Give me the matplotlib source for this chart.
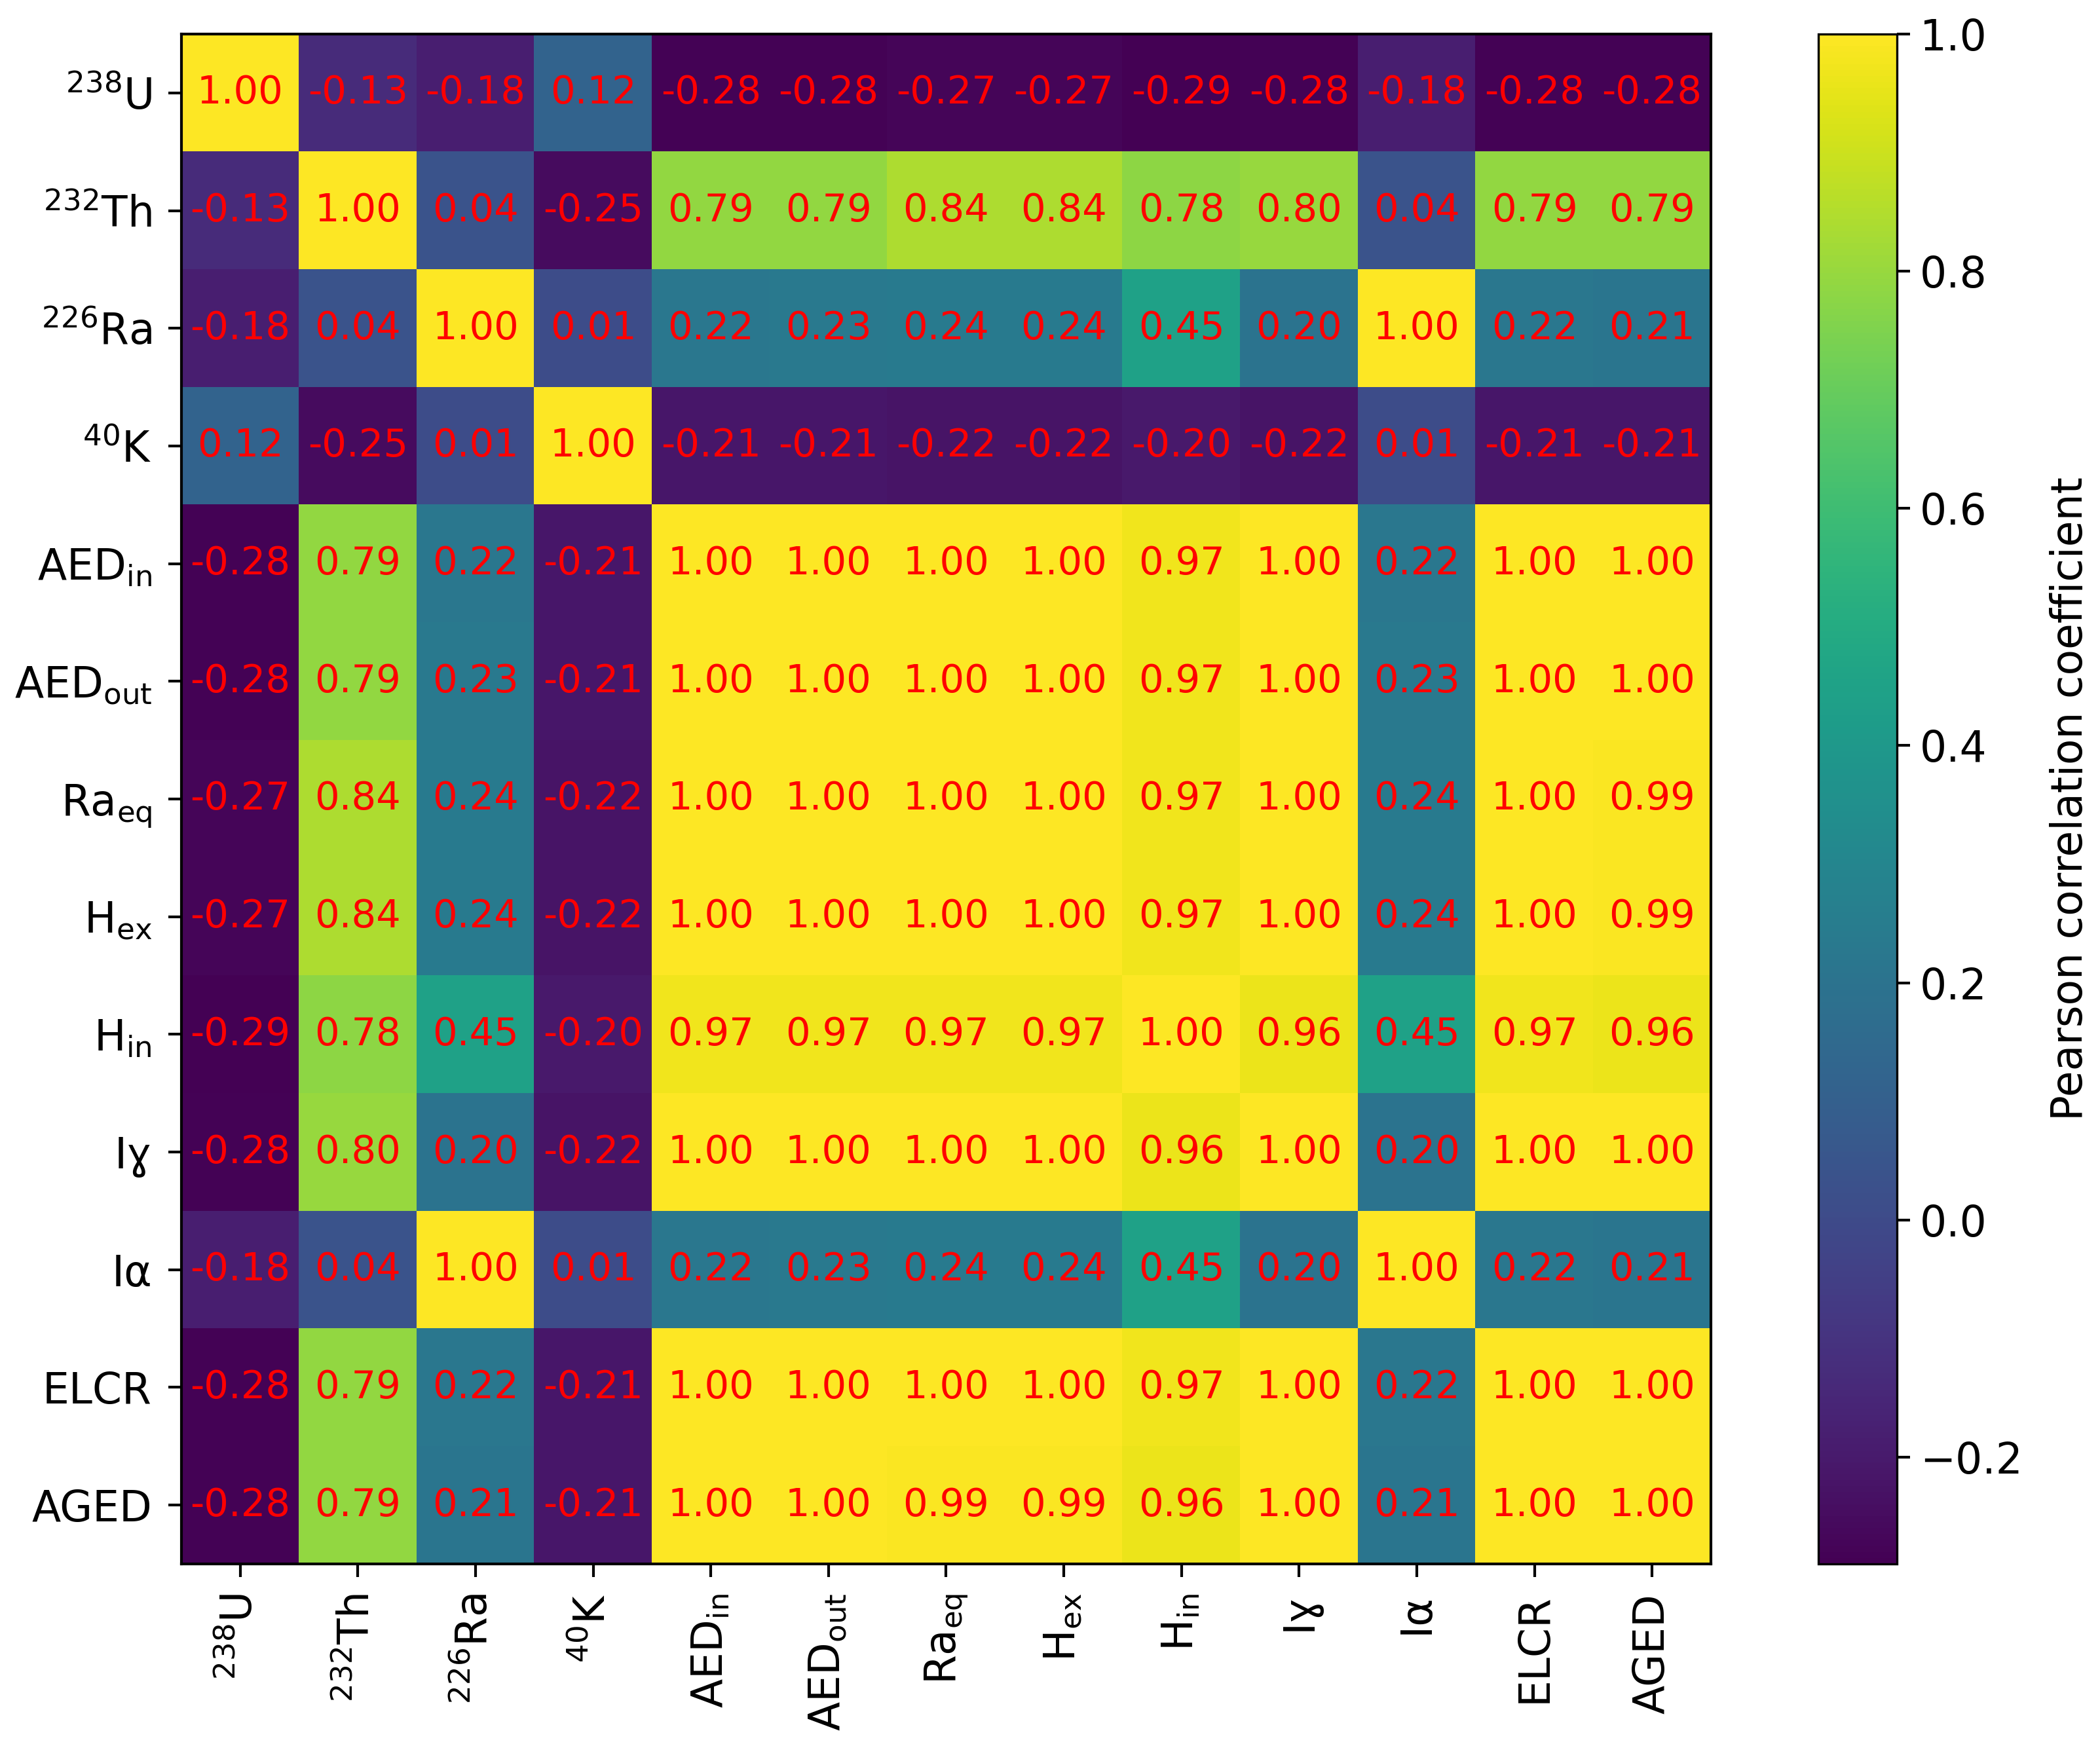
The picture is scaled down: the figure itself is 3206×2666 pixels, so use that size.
import numpy as np
import matplotlib
matplotlib.use("Agg")
import matplotlib.pyplot as plt

labels = [r"$\mathregular{^{238}U}$", r"$\mathregular{^{232}Th}$", r"$\mathregular{^{226}Ra}$",
          r"$\mathregular{^{40}K}$", r"$\mathregular{AED_{in}}$", r"$\mathregular{AED_{out}}$",
          r"$\mathregular{Ra_{eq}}$", r"$\mathregular{H_{ex}}$", r"$\mathregular{H_{in}}$",
          "I\u0263", "I\u03b1", "ELCR", "AGED"]

row_U      = [1.00, -0.13, -0.18, 0.12, -0.28, -0.28, -0.27, -0.27, -0.29, -0.28, -0.18, -0.28, -0.28]
row_Th     = [-0.13, 1.00, 0.04, -0.25, 0.79, 0.79, 0.84, 0.84, 0.78, 0.80, 0.04, 0.79, 0.79]
row_Ra     = [-0.18, 0.04, 1.00, 0.01, 0.22, 0.23, 0.24, 0.24, 0.45, 0.20, 1.00, 0.22, 0.21]
row_K      = [0.12, -0.25, 0.01, 1.00, -0.21, -0.21, -0.22, -0.22, -0.20, -0.22, 0.01, -0.21, -0.21]
row_AEDin  = [-0.28, 0.79, 0.22, -0.21, 1.00, 1.00, 1.00, 1.00, 0.97, 1.00, 0.22, 1.00, 1.00]
row_AEDout = [-0.28, 0.79, 0.23, -0.21, 1.00, 1.00, 1.00, 1.00, 0.97, 1.00, 0.23, 1.00, 1.00]
row_Raeq   = [-0.27, 0.84, 0.24, -0.22, 1.00, 1.00, 1.00, 1.00, 0.97, 1.00, 0.24, 1.00, 0.99]
row_Hex    = [-0.27, 0.84, 0.24, -0.22, 1.00, 1.00, 1.00, 1.00, 0.97, 1.00, 0.24, 1.00, 0.99]
row_Hin    = [-0.29, 0.78, 0.45, -0.20, 0.97, 0.97, 0.97, 0.97, 1.00, 0.96, 0.45, 0.97, 0.96]
row_Ig     = [-0.28, 0.80, 0.20, -0.22, 1.00, 1.00, 1.00, 1.00, 0.96, 1.00, 0.20, 1.00, 1.00]
row_Ia     = [-0.18, 0.04, 1.00, 0.01, 0.22, 0.23, 0.24, 0.24, 0.45, 0.20, 1.00, 0.22, 0.21]
row_ELCR   = [-0.28, 0.79, 0.22, -0.21, 1.00, 1.00, 1.00, 1.00, 0.97, 1.00, 0.22, 1.00, 1.00]
row_AGED   = [-0.28, 0.79, 0.21, -0.21, 1.00, 1.00, 0.99, 0.99, 0.96, 1.00, 0.21, 1.00, 1.00]

corr = np.array([row_U, row_Th, row_Ra, row_K, row_AEDin, row_AEDout, row_Raeq,
                 row_Hex, row_Hin, row_Ig, row_Ia, row_ELCR, row_AGED])

plt.rcParams['font.family'] = ['DejaVu Sans']
plt.rcParams['mathtext.default'] = 'regular'

fig = plt.figure(figsize=(3206/300, 2666/300), dpi=300)
ax = fig.add_axes([0.0864, 0.1043, 0.7283, 0.8762])
cax = fig.add_axes([0.866, 0.1043, 0.0374, 0.8762])

im = ax.imshow(corr, cmap='viridis', vmin=corr.min(), vmax=1.0, aspect='auto')
n = len(labels)
for i in range(n):
    for j in range(n):
        ax.text(j, i, f"{corr[i, j]:.2f}", ha='center', va='center', color='red', fontsize=14.2)

ax.set_xticks(range(n))
ax.set_yticks(range(n))
ax.set_xticklabels(labels, rotation=90, fontsize=15.5)
ax.set_yticklabels(labels, fontsize=15.5)
ax.tick_params(length=4.8, width=1.0, pad=6)
for s in ax.spines.values():
    s.set_linewidth(1.0)

cb = fig.colorbar(im, cax=cax)
cb.set_ticks([-0.2, 0.0, 0.2, 0.4, 0.6, 0.8, 1.0])
cb.ax.tick_params(labelsize=15.5, length=4.8, width=1.0)
cb.set_label("Pearson correlation coefficient", fontsize=15.5, labelpad=10)

fig.savefig("out.png", dpi=300)
